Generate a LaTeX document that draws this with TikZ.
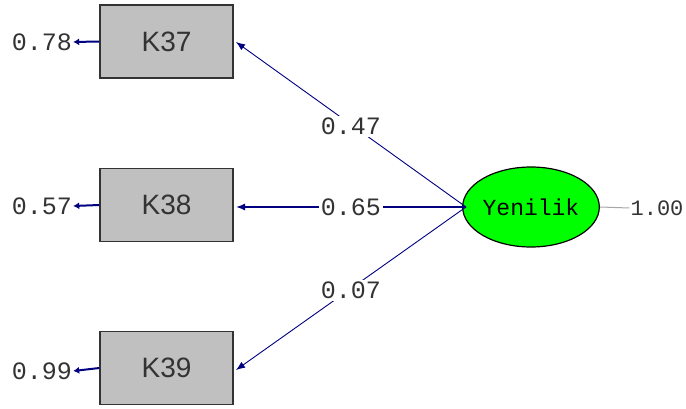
\documentclass[tikz,border=0pt]{standalone}
\usepackage{fontspec}
\setmainfont{Liberation Sans}
\newfontfamily\monofont{Liberation Mono}
\usetikzlibrary{arrows.meta,shapes.geometric}
\definecolor{pathblue}{RGB}{0,0,128}
\definecolor{boxgray}{RGB}{192,192,192}
\definecolor{latentgreen}{RGB}{0,255,0}
\tikzset{
  obsbox/.style={draw=black!80, line width=1.2pt, fill=boxgray, minimum width=133pt, minimum height=73pt, inner sep=0pt,
    font=\fontsize{28}{28}\selectfont, text=black!80},
  latent/.style={ellipse, draw=black, line width=1.2pt, fill=latentgreen, minimum width=131pt, minimum height=80pt, inner sep=0pt,
    font=\monofont\fontsize{23}{23}\selectfont},
  numlabel/.style={font=\monofont\fontsize{25}{25}\selectfont, text=black!80, inner sep=1pt},
  pathlabel/.style={numlabel, fill=white, inner sep=2pt},
  loading/.style={draw=pathblue, line width=0.9pt, -{Latex[length=9pt,width=7pt]}},
  errarrow/.style={draw=pathblue, line width=2pt, -{Latex[length=6pt,width=7pt]}},
}
\begin{document}
\begin{tikzpicture}[x=1pt,y=-1pt]
  \useasboundingbox (0,0) rectangle (686,409);
  % observed indicators
  \node[obsbox] (k37) at (166.5,41.5) {K37};
  \node[obsbox] (k38) at (166.5,205) {K38};
  \node[obsbox] (k39) at (166.5,368) {K39};
  % latent factor
  \node[latent] (yen) at (531,207) {Yenilik};
  % error variances
  \node[numlabel] (e37) at (42,42) {0.78};
  \node[numlabel] (e38) at (42,206) {0.57};
  \node[numlabel] (e39) at (42,371) {0.99};
  \node[numlabel, font=\monofont\fontsize{22}{22}\selectfont] (fv) at (657,208) {1.00};
  \draw[errarrow] (k37.west) -- (e37.east);
  \draw[errarrow] (k38.west) -- (e38.east);
  \draw[errarrow] (k39.west) -- (e39.east);
  \draw[draw=black!35, line width=1pt] (yen.east) -- (fv.west);
  % factor loadings
  \coordinate (src) at (466,207);
  \coordinate (t37) at (236,42);
  \coordinate (t38) at (236,207);
  \coordinate (t39) at (236,370);
  \draw[loading] (src) -- (t37) node[pathlabel, pos=0.5, yshift=-2pt] {0.47};
  \draw[loading, line width=1.4pt] (src) -- (t38) node[pathlabel, pos=0.5] {0.65};
  \draw[loading] (src) -- (t39) node[pathlabel, pos=0.5, yshift=-2pt] {0.07};
\end{tikzpicture}
\end{document}
